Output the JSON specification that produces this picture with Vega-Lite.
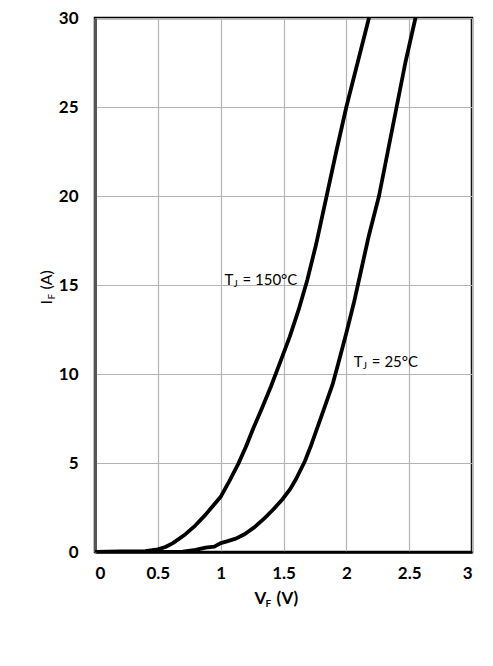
{
  "$schema": "https://vega.github.io/schema/vega-lite/v6.json",
  "width": 377,
  "height": 534,
  "autosize": {"type": "none"},
  "padding": {"left": 95, "top": 18, "right": 21, "bottom": 114},
  "background": "white",
  "config": {
    "view": {"stroke": "black", "strokeWidth": 2.5},
    "font": "Lato"
  },
  "datasets": {
    "curves": [
      {"series": "150", "v": 0.0, "i": 0.0},
      {"series": "150", "v": 0.2, "i": 0.03},
      {"series": "150", "v": 0.4, "i": 0.05},
      {"series": "150", "v": 0.5, "i": 0.15},
      {"series": "150", "v": 0.56, "i": 0.28},
      {"series": "150", "v": 0.62, "i": 0.5},
      {"series": "150", "v": 0.72, "i": 1.0},
      {"series": "150", "v": 0.8, "i": 1.5},
      {"series": "150", "v": 0.88, "i": 2.1},
      {"series": "150", "v": 1.0, "i": 3.1},
      {"series": "150", "v": 1.07, "i": 4.0},
      {"series": "150", "v": 1.14, "i": 4.95},
      {"series": "150", "v": 1.2, "i": 5.9},
      {"series": "150", "v": 1.26, "i": 6.95},
      {"series": "150", "v": 1.33, "i": 8.1},
      {"series": "150", "v": 1.4, "i": 9.3},
      {"series": "150", "v": 1.47, "i": 10.6},
      {"series": "150", "v": 1.55, "i": 12.1},
      {"series": "150", "v": 1.62, "i": 13.6},
      {"series": "150", "v": 1.69, "i": 15.3},
      {"series": "150", "v": 1.76, "i": 17.3},
      {"series": "150", "v": 1.84, "i": 19.9},
      {"series": "150", "v": 1.92, "i": 22.5},
      {"series": "150", "v": 2.0, "i": 25.0},
      {"series": "150", "v": 2.09, "i": 27.5},
      {"series": "150", "v": 2.18, "i": 30.0},
      {"series": "25", "v": 0.0, "i": 0.0},
      {"series": "25", "v": 0.4, "i": 0.0},
      {"series": "25", "v": 0.7, "i": 0.02},
      {"series": "25", "v": 0.8, "i": 0.12},
      {"series": "25", "v": 0.88, "i": 0.25},
      {"series": "25", "v": 0.95, "i": 0.3},
      {"series": "25", "v": 1.0, "i": 0.5},
      {"series": "25", "v": 1.05, "i": 0.6},
      {"series": "25", "v": 1.12, "i": 0.75},
      {"series": "25", "v": 1.19, "i": 1.0},
      {"series": "25", "v": 1.27, "i": 1.4},
      {"series": "25", "v": 1.35, "i": 1.9},
      {"series": "25", "v": 1.42, "i": 2.4},
      {"series": "25", "v": 1.49, "i": 2.95},
      {"series": "25", "v": 1.55, "i": 3.5},
      {"series": "25", "v": 1.6, "i": 4.1},
      {"series": "25", "v": 1.67, "i": 5.1},
      {"series": "25", "v": 1.72, "i": 6.0},
      {"series": "25", "v": 1.78, "i": 7.2},
      {"series": "25", "v": 1.83, "i": 8.2},
      {"series": "25", "v": 1.89, "i": 9.4},
      {"series": "25", "v": 1.94, "i": 10.7},
      {"series": "25", "v": 2.0, "i": 12.3},
      {"series": "25", "v": 2.06, "i": 14.0},
      {"series": "25", "v": 2.12, "i": 15.9},
      {"series": "25", "v": 2.18, "i": 17.8},
      {"series": "25", "v": 2.26, "i": 20.0},
      {"series": "25", "v": 2.33, "i": 22.5},
      {"series": "25", "v": 2.4, "i": 25.0},
      {"series": "25", "v": 2.47, "i": 27.5},
      {"series": "25", "v": 2.55, "i": 30.0}
    ],
    "notes": [
      {"v": 1.03, "i": 15.3, "main": "T", "sub": "J", "rest": "= 150°C"},
      {"v": 2.06, "i": 10.7, "main": "T", "sub": "J", "rest": "= 25°C"}
    ],
    "xtitle": [
      {"v": 1.27, "i": -2.64, "main": "V", "sub": "F", "rest": "(V)"}
    ],
    "ytitle": [
      {"v": -0.38, "i": 13.9, "main": "I", "sub": "F", "rest": "(A)"}
    ]
  },
  "layer": [
    {
      "data": {"name": "curves"},
      "mark": {"type": "line", "color": "black", "strokeWidth": 3.8, "strokeJoin": "round", "strokeCap": "round", "clip": true},
      "encoding": {
        "x": {
          "field": "v", "type": "quantitative",
          "scale": {"domain": [0, 3], "nice": false, "zero": false},
          "axis": {
            "title": null, "values": [0, 0.5, 1, 1.5, 2, 2.5, 3], "format": "~g",
            "labelFont": "Lato", "labelFontSize": 17, "labelFontWeight": "bold", "labelColor": "black",
            "labelPadding": 13, "ticks": false,
            "domainColor": "black", "domainWidth": 2.5,
            "gridColor": "#b4b4b4", "gridWidth": 1.2
          }
        },
        "y": {
          "field": "i", "type": "quantitative",
          "scale": {"domain": [0, 30], "nice": false, "zero": false},
          "axis": {
            "title": null, "values": [0, 5, 10, 15, 20, 25, 30],
            "labelFont": "Lato", "labelFontSize": 17, "labelFontWeight": "bold", "labelColor": "black",
            "labelPadding": 17, "ticks": false,
            "domainColor": "#555555", "domainWidth": 3,
            "gridColor": "#b4b4b4", "gridWidth": 1.2
          }
        },
        "detail": {"field": "series", "type": "nominal"},
        "order": {"field": "v", "type": "quantitative"}
      }
    },
    {
      "data": {"name": "notes"},
      "mark": {"type": "text", "align": "left", "baseline": "middle", "fontSize": 15, "color": "black"},
      "encoding": {
        "x": {"field": "v", "type": "quantitative", "scale": {"domain": [0, 3], "nice": false, "zero": false}},
        "y": {"field": "i", "type": "quantitative", "scale": {"domain": [0, 30], "nice": false, "zero": false}},
        "text": {"field": "main"}
      }
    },
    {
      "data": {"name": "notes"},
      "mark": {"type": "text", "align": "left", "baseline": "middle", "fontSize": 10, "color": "black", "dx": 9, "dy": 4},
      "encoding": {
        "x": {"field": "v", "type": "quantitative", "scale": {"domain": [0, 3], "nice": false, "zero": false}},
        "y": {"field": "i", "type": "quantitative", "scale": {"domain": [0, 30], "nice": false, "zero": false}},
        "text": {"field": "sub"}
      }
    },
    {
      "data": {"name": "notes"},
      "mark": {"type": "text", "align": "left", "baseline": "middle", "fontSize": 15, "color": "black", "dx": 18},
      "encoding": {
        "x": {"field": "v", "type": "quantitative", "scale": {"domain": [0, 3], "nice": false, "zero": false}},
        "y": {"field": "i", "type": "quantitative", "scale": {"domain": [0, 30], "nice": false, "zero": false}},
        "text": {"field": "rest"}
      }
    },
    {
      "data": {"name": "xtitle"},
      "mark": {"type": "text", "align": "left", "baseline": "middle", "fontSize": 17, "fontWeight": "bold", "color": "black"},
      "encoding": {
        "x": {"field": "v", "type": "quantitative", "scale": {"domain": [0, 3], "nice": false, "zero": false}},
        "y": {"field": "i", "type": "quantitative", "scale": {"domain": [0, 30], "nice": false, "zero": false}},
        "text": {"field": "main"}
      }
    },
    {
      "data": {"name": "xtitle"},
      "mark": {"type": "text", "align": "left", "baseline": "middle", "fontSize": 10, "fontWeight": "bold", "color": "black", "dx": 11, "dy": 5},
      "encoding": {
        "x": {"field": "v", "type": "quantitative", "scale": {"domain": [0, 3], "nice": false, "zero": false}},
        "y": {"field": "i", "type": "quantitative", "scale": {"domain": [0, 30], "nice": false, "zero": false}},
        "text": {"field": "sub"}
      }
    },
    {
      "data": {"name": "xtitle"},
      "mark": {"type": "text", "align": "left", "baseline": "middle", "fontSize": 17, "fontWeight": "bold", "color": "black", "dx": 22},
      "encoding": {
        "x": {"field": "v", "type": "quantitative", "scale": {"domain": [0, 3], "nice": false, "zero": false}},
        "y": {"field": "i", "type": "quantitative", "scale": {"domain": [0, 30], "nice": false, "zero": false}},
        "text": {"field": "rest"}
      }
    },
    {
      "data": {"name": "ytitle"},
      "mark": {"type": "text", "align": "left", "baseline": "middle", "fontSize": 16, "color": "black", "angle": 270},
      "encoding": {
        "x": {"field": "v", "type": "quantitative", "scale": {"domain": [0, 3], "nice": false, "zero": false}},
        "y": {"field": "i", "type": "quantitative", "scale": {"domain": [0, 30], "nice": false, "zero": false}},
        "text": {"field": "main"}
      }
    },
    {
      "data": {"name": "ytitle"},
      "mark": {"type": "text", "align": "left", "baseline": "middle", "fontSize": 10, "color": "black", "angle": 270, "dx": 5, "dy": 5},
      "encoding": {
        "x": {"field": "v", "type": "quantitative", "scale": {"domain": [0, 3], "nice": false, "zero": false}},
        "y": {"field": "i", "type": "quantitative", "scale": {"domain": [0, 30], "nice": false, "zero": false}},
        "text": {"field": "sub"}
      }
    },
    {
      "data": {"name": "ytitle"},
      "mark": {"type": "text", "align": "left", "baseline": "middle", "fontSize": 16, "color": "black", "angle": 270, "dx": 15},
      "encoding": {
        "x": {"field": "v", "type": "quantitative", "scale": {"domain": [0, 3], "nice": false, "zero": false}},
        "y": {"field": "i", "type": "quantitative", "scale": {"domain": [0, 30], "nice": false, "zero": false}},
        "text": {"field": "rest"}
      }
    }
  ]
}
